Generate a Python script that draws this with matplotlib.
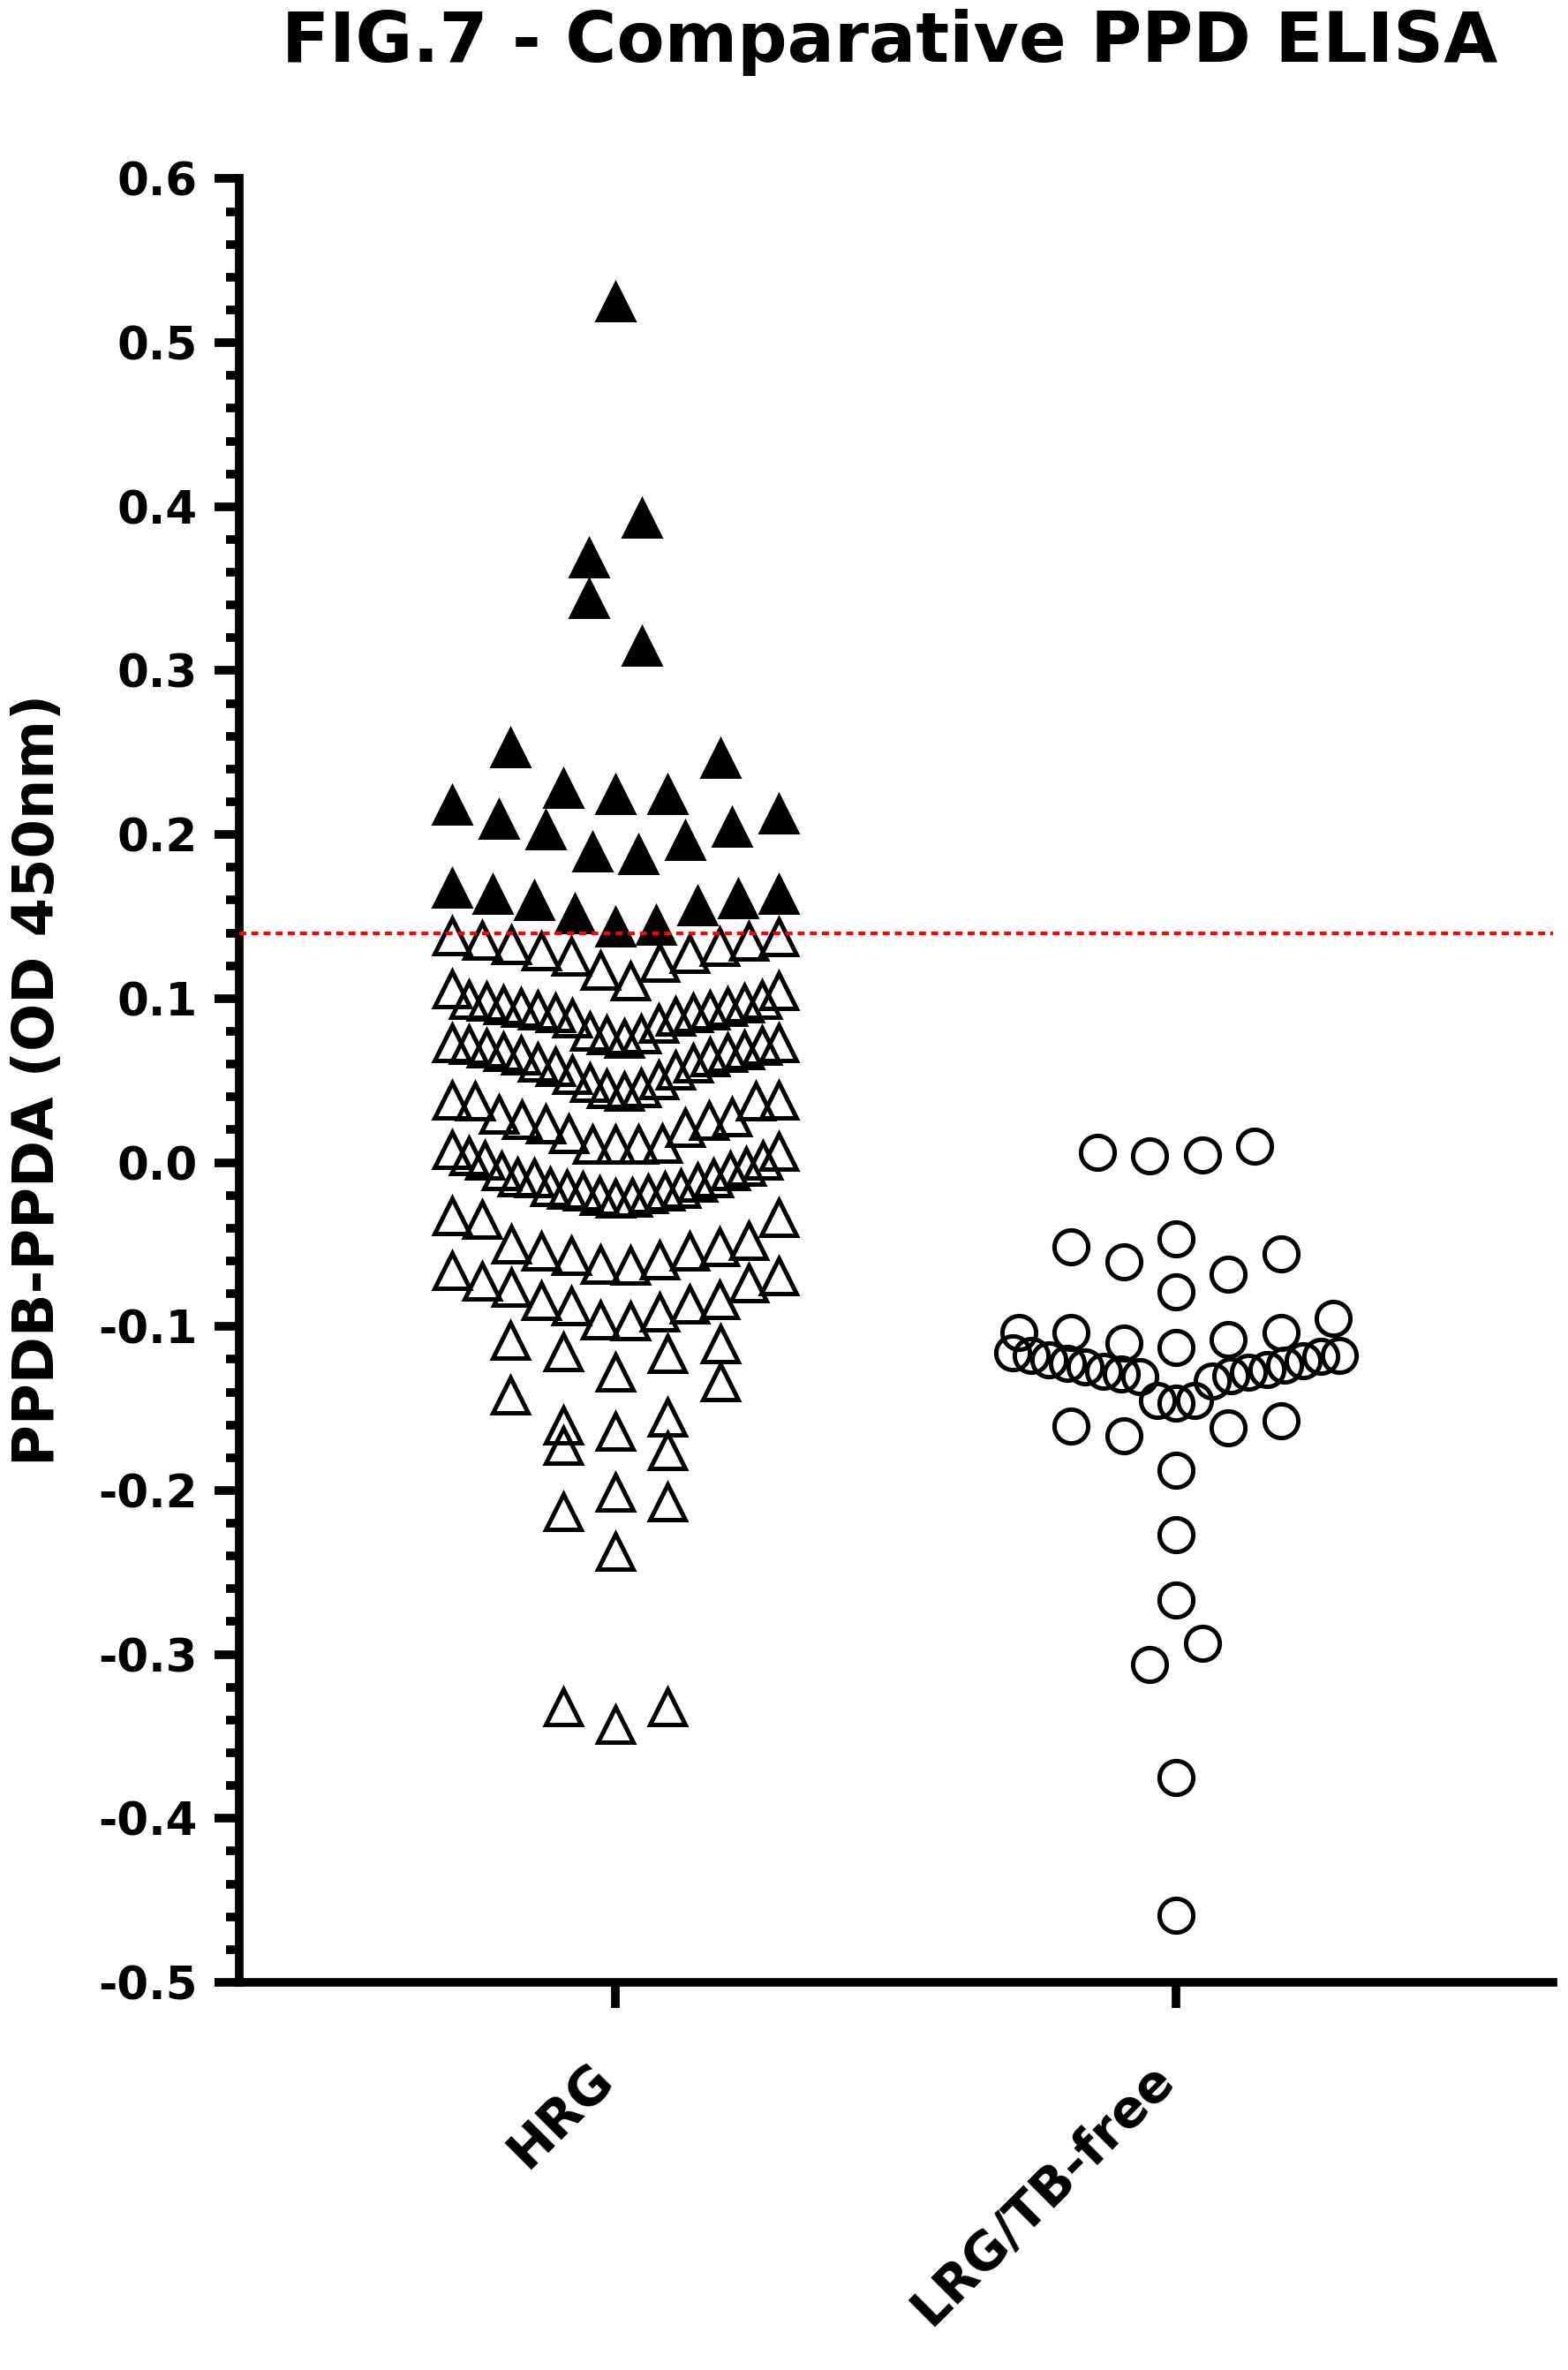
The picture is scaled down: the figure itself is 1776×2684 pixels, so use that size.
import numpy as np
import matplotlib
matplotlib.use("Agg")
import matplotlib.pyplot as plt
from matplotlib.markers import MarkerStyle
from matplotlib.ticker import MultipleLocator, FormatStrFormatter

plt.rcParams['font.family'] = ['DejaVu Sans']
plt.rcParams['axes.unicode_minus'] = False

# ---------------- data (in data-entry order) ----------------
title = "FIG.7 - Comparative PPD ELISA"
ylabel = "PPDB-PPDA (OD 450nm)"
categories = ["HRG", "LRG/TB-free"]
cutoff = 0.14

hrg_below_cutoff = [
    -0.3430, -0.3320, -0.3320,
    -0.2370, -0.2070, -0.2130,
    -0.2010, -0.1760, -0.1725,
    -0.1640, -0.1555, -0.1600, -0.1340, -0.1420,
    -0.1280, -0.1165, -0.1155, -0.1105, -0.1085,
    -0.0965, -0.0962, -0.0912, -0.0876, -0.0863, -0.0840, -0.0836, -0.0764, -0.0737, -0.0723,
    -0.0690, -0.0660,
    -0.0628, -0.0621, -0.0594, -0.0570, -0.0540, -0.0540, -0.0516, -0.0498, -0.0475, -0.0346,
    -0.0337, -0.0324,
    -0.0220, -0.0211, -0.0202, -0.0193, -0.0175, -0.0175, -0.0163, -0.0157, -0.0148, -0.0121,
    -0.0095, -0.0095, -0.0086, -0.0050, -0.0050, -0.0023, 0.0013, 0.0013, 0.0040, 0.0067, 0.0076,
    0.0112, 0.0112, 0.0112, 0.0117, 0.0175, 0.0211, 0.0232, 0.0256, 0.0264, 0.0279, 0.0292,
    0.0373, 0.0373, 0.0382, 0.0382,
    0.0436, 0.0448, 0.0454, 0.0490, 0.0502, 0.0534, 0.0562, 0.0585, 0.0606, 0.0610, 0.0642,
    0.0657, 0.0669, 0.0678, 0.0687, 0.0696, 0.0714, 0.0717, 0.0728, 0.0732,
    0.0759, 0.0777, 0.0786, 0.0800, 0.0849, 0.0879, 0.0890, 0.0912, 0.0912, 0.0929, 0.0929,
    0.0944, 0.0951, 0.0962, 0.0974, 0.0983, 0.0992, 0.0992, 0.1046, 0.1060,
    0.1108, 0.1169, 0.1221, 0.1259, 0.1272, 0.1292, 0.1315, 0.1329, 0.1347, 0.1352, 0.1374, 0.1383,
]

hrg_above_cutoff = [
    0.1437, 0.1446, 0.1518, 0.1563, 0.1599, 0.1607, 0.1634, 0.1634, 0.1670,
    0.1878, 0.1891, 0.1961, 0.2028, 0.2042, 0.2093, 0.2127, 0.2179,
    0.2242, 0.2245, 0.2280, 0.2463, 0.2529,
    0.3150, 0.3438, 0.3931, 0.3687, 0.5250,
]

lrg_values = [
    -0.4590, -0.3750, -0.2930, -0.3060, -0.2670, -0.2270,
    -0.1877, -0.1616, -0.1665, -0.1573, -0.1607,
    -0.1467, -0.1449, -0.1449, -0.1333, -0.1306, -0.1302, -0.1288, -0.1279, -0.1275, -0.1261,
    -0.1246, -0.1234, -0.1225, -0.1207, -0.1203, -0.1180, -0.1174, -0.1174, -0.1162,
    -0.1130, -0.1078, -0.1103, -0.1036, -0.1036, -0.0950, -0.1036,
    -0.0787, -0.0679, -0.0607, -0.0555, -0.0512, -0.0465,
    0.0048, 0.0041, 0.0101, 0.0063,
]

y_ticks = [0.6, 0.5, 0.4, 0.3, 0.2, 0.1, 0.0, -0.1, -0.2, -0.3, -0.4, -0.5]


# ---------------- layout helper (row-wise scatter spreading) ----------------
def spread_offsets(values, row_height, step, max_width):
    """Group close values into rows and spread each row symmetrically
    (center, right, left, ...) in data-entry order."""
    vals = np.asarray(values, dtype=float)
    order = np.argsort(vals, kind="stable")
    offs = np.zeros(len(vals))
    i = 0
    while i < len(order):
        start = vals[order[i]]
        j = i
        while j < len(order) and vals[order[j]] < start + row_height:
            j += 1
        row = np.sort(order[i:j])
        n = len(row)
        d = step if n < 2 else min(step, max_width / (n - 1))
        for k, idx in enumerate(row):
            if n % 2 == 1:
                slot = 0.0 if k == 0 else ((k + 1) // 2) * (1 if k % 2 == 1 else -1)
            else:
                slot = (k // 2 + 0.5) * (1 if k % 2 == 0 else -1)
            offs[idx] = slot * d
        i = j
    return offs


hrg_all = np.array(hrg_below_cutoff + hrg_above_cutoff)
lrg_all = np.array(lrg_values)

ROW_H = 0.031
STEP = 0.0934
MAXW = 0.5827
hrg_x = 1 + spread_offsets(hrg_all, ROW_H, STEP, MAXW)
lrg_x = 2 + spread_offsets(lrg_all, ROW_H, STEP, MAXW)

# ---------------- figure ----------------
fig = plt.figure(figsize=(17.76, 26.84), dpi=100)
ax = fig.add_axes([0.15259, 0.16356, 0.83784, 0.76103])

above = hrg_all > cutoff
tri_open = MarkerStyle('^', fillstyle='none', joinstyle='miter')
tri_fill = MarkerStyle('^', fillstyle='full', joinstyle='miter')
circ_open = MarkerStyle('o', fillstyle='none')

ax.plot(hrg_x[~above], hrg_all[~above], linestyle='none', marker=tri_open,
        markersize=29, markeredgewidth=3.6, markeredgecolor='black', zorder=3)
ax.plot(hrg_x[above], hrg_all[above], linestyle='none', marker=tri_fill,
        markersize=29, markeredgewidth=3.6, markeredgecolor='black',
        markerfacecolor='black', zorder=3)
ax.plot(lrg_x, lrg_all, linestyle='none', marker=circ_open,
        markersize=27.5, markeredgewidth=3.6, markeredgecolor='black', zorder=3)

ax.axhline(cutoff, color='#ff0000', linewidth=3, linestyle=(0, (1.9, 1.4)), zorder=5)

ax.set_xlim(0.3291, 2.6724)
ax.set_ylim(-0.5, 0.6)

for s in ['top', 'right']:
    ax.spines[s].set_visible(False)
for s in ['left', 'bottom']:
    ax.spines[s].set_linewidth(7)

ax.set_yticks(y_ticks)
ax.yaxis.set_major_formatter(FormatStrFormatter('%.1f'))
ax.yaxis.set_minor_locator(MultipleLocator(0.02))
ax.tick_params(axis='y', which='major', length=20, width=7, direction='out',
               labelsize=37, pad=14)
ax.tick_params(axis='y', which='minor', length=11, width=7, direction='out')
for lab in ax.get_yticklabels():
    lab.set_fontweight('bold')

ax.set_xticks([1, 2])
ax.set_xticklabels(categories, rotation=45, ha='right', va='baseline',
                   rotation_mode='anchor', fontsize=42, fontweight='bold')
ax.tick_params(axis='x', which='major', length=21, width=7, direction='out', pad=60)
ax.tick_params(axis='x', which='minor', bottom=False)

fig.text(0.0242, 0.5443, ylabel, rotation=90, ha='center', va='center',
         fontsize=46, fontweight='bold')
fig.text(0.5676, 0.9739, title, ha='center', va='baseline',
         fontsize=57, fontweight='bold')

fig.savefig('out.png', dpi=100, facecolor='white')
